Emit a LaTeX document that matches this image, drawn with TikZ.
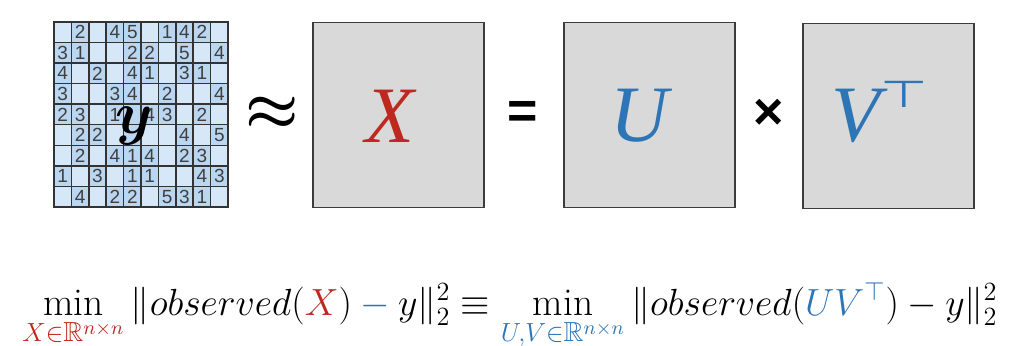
\documentclass[tikz,border=0pt]{standalone}
\usepackage{amsmath}
\usepackage{amssymb}
\usepackage{fontspec}
\newfontfamily\labelfont{Liberation Sans}
\newfontfamily\letterfont{Liberation Serif}
\newfontfamily\symfont{DejaVu Sans}

\definecolor{xred}{RGB}{190,40,30}
\definecolor{ublue}{RGB}{46,117,182}
\definecolor{cellempty}{RGB}{214,232,248}
\definecolor{cellfull}{RGB}{186,214,240}
\definecolor{boxgray}{RGB}{217,217,217}
\definecolor{boxline}{RGB}{60,60,60}

\tikzset{
  cell/.style={draw=black!80, line width=0.75pt, minimum width=8.7pt,
    minimum height=10.3pt, inner sep=0pt,
    font=\labelfont\fontsize{9.5}{10}\selectfont, text=black!75},
  matbox/.style={draw=boxline, fill=boxgray, line width=0.8pt,
    minimum width=85.5pt, minimum height=92.5pt, inner sep=0pt},
  letter/.style={font=\letterfont\itshape\fontsize{40}{42}\selectfont, inner sep=0pt},
  opsym/.style={font=\labelfont\bfseries\fontsize{26}{28}\selectfont, inner sep=0pt},
}

\begin{document}
\begin{tikzpicture}[x=0.5pt,y=-0.5pt]
  \useasboundingbox (0,0) rectangle (1012,346);

  % observed ratings (0 = missing, 9 = hidden by the y)
  \foreach \row [count=\r] in {{0,2,0,4,5,0,1,4,2,0},{3,1,0,0,2,2,0,5,0,4},
      {4,0,2,0,4,1,0,3,1,0},{3,0,0,3,4,0,2,0,0,4},{2,3,0,1,9,4,3,0,2,0},
      {0,2,2,0,9,0,0,4,0,5},{0,2,0,4,1,4,0,2,3,0},{1,0,3,0,1,1,0,0,4,3},
      {0,4,0,2,2,0,5,3,1,0}}{
    \foreach \v [count=\c] in \row {
      \ifnum\v=0
        \node[cell, fill=cellempty] (c-\r-\c) at ({54+17.4*(\c-0.5)},{22+20.55*(\r-0.5)}) {};
      \else\ifnum\v=9
        \node[cell, fill=cellfull] (c-\r-\c) at ({54+17.4*(\c-0.5)},{22+20.55*(\r-0.5)}) {};
      \else
        \node[cell, fill=cellfull] (c-\r-\c) at ({54+17.4*(\c-0.5)},{22+20.55*(\r-0.5)}) {\v};
      \fi\fi
    }
  }
  \node[inner sep=0pt] (yobs) at (134,126)
    {\scalebox{1.2}{\fontsize{24}{26}\selectfont$\boldsymbol{y}$}};

  \node[inner sep=0pt] (approx) at (272,114)
    {\scalebox{1.2}{\fontsize{24}{26}\selectfont$\boldsymbol{\approx}$}};

  \node[matbox] (X) at (398.5,115) {};
  \node[letter, text=xred] (Xlab) at (390,116) {X};
  \node[opsym] (eq) at (523,115) {=};
  \node[matbox] (U) at (649.5,115) {};
  \node[letter, text=ublue] (Ulab) at (639,116) {U};
  \node[opsym] (times) at (769,114) {×};
  \node[matbox] (V) at (888.5,116) {};
  \node[letter, text=ublue] (Vlab) at (880,112)
    {V\raisebox{17pt}{\symfont\upshape\fontsize{26}{28}\selectfont\scalebox{1.05}[0.72]{⊤}}};

  \node[anchor=base, inner sep=0pt] (loss) at (510,316)
    {\scalebox{1.095}{\fontsize{18}{20}\selectfont$\displaystyle
      \min_{\textcolor{xred}{X\in\mathbb{R}^{n\times n}}}
      \|observed(\textcolor{xred}{X}) \mathbin{\textcolor{ublue}{-}} y\|_2^2 \equiv
      \min_{\textcolor{ublue}{U,V\in\mathbb{R}^{n\times n}}}
      \|observed(\textcolor{ublue}{UV^{\top}}) - y\|_2^2$}};
\end{tikzpicture}
\end{document}
